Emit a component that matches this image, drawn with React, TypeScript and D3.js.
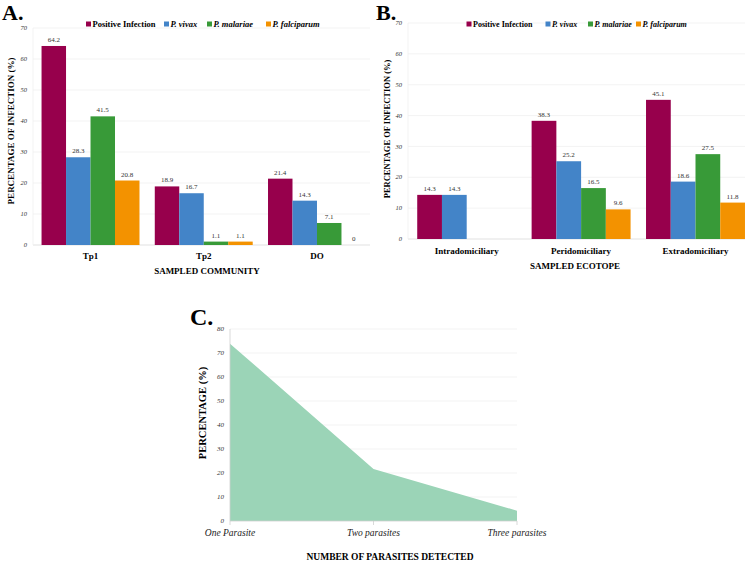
import React from "react";
import * as d3 from "d3";

const seriesNames = ["Positive Infection", "P. vivax", "P. malariae", "P. falciparum"];
const seriesColors = ["#97004C", "#4384C8", "#389A38", "#F39200"];

const communities = ["Tp1", "Tp2", "DO"];
const communityValues = [
  [64.2, 28.3, 41.5, 20.8],
  [18.9, 16.7, 1.1, 1.1],
  [21.4, 14.3, 7.1, 0],
];

const ecotopes = ["Intradomiciliary", "Peridomiciliary", "Extradomiciliary"];
const ecotopeValues: (number | null)[][] = [
  [14.3, 14.3, null, null],
  [38.3, 25.2, 16.5, 9.6],
  [45.1, 18.6, 27.5, 11.8],
];

const parasiteCats = ["One Parasite", "Two parasites", "Three parasites"];
const parasiteValues = [73.9, 21.7, 4.3];

const barTicks = [0, 10, 20, 30, 40, 50, 60, 70];
const areaTicks = [0, 10, 20, 30, 40, 50, 60, 70, 80];

const SERIF = "'Liberation Serif', 'Times New Roman', serif";

type BarProps = {
  cats: string[];
  values: (number | null)[][];
  x0: number;
  x1: number;
  gridX0: number;
  gridX1: number;
  y0: number;
  y70: number;
  legendX: number[];
  legendY: number;
  legendSize: number;
  catLabelY: number;
  xTitle: string;
  xTitleX: number;
  xTitleY: number;
  yTitleX: number;
  yTitleY: number;
  yTitleSize: number;
  panel: string;
  panelX: number;
};

function GroupedBars(p: BarProps) {
  const y = d3.scaleLinear().domain([0, 70]).range([p.y0, p.y70]);
  const gx = d3.scaleBand<string>().domain(p.cats).range([p.x0, p.x1]).paddingInner(0.135).paddingOuter(0.0675);
  const sx = d3.scaleBand<string>().domain(seriesNames).range([0, gx.bandwidth()]);
  return (
    <g>
      <text x={p.panelX} y={20} fontFamily={SERIF} fontWeight="bold" fontSize={22}>{p.panel}</text>
      {barTicks.map((t) => (
        <g key={t}>
          <line x1={p.gridX0} x2={p.gridX1} y1={y(t)} y2={y(t)} stroke={t === 0 ? "#d9d9d9" : "#f0f0f0"} strokeWidth={0.8} />
          <text x={p.gridX0 - 6} y={y(t)} dy="0.32em" textAnchor="end" fontFamily={SERIF} fontStyle="italic" fontSize={6.5} fill="#333">{t}</text>
        </g>
      ))}
      <line x1={p.gridX0} x2={p.gridX0} y1={p.y70} y2={p.y0} stroke="#f0f0f0" strokeWidth={0.8} />
      {p.cats.map((c, ci) => (
        <g key={c} transform={`translate(${gx(c)},0)`}>
          {seriesNames.map((s, si) => {
            const v = p.values[ci][si];
            if (v === null) return null;
            return (
              <g key={s}>
                <rect x={sx(s)} width={sx.bandwidth()} y={y(v)} height={p.y0 - y(v)} fill={seriesColors[si]} />
                <text x={(sx(s) as number) + sx.bandwidth() / 2} y={y(v) - 4} textAnchor="middle" fontFamily={SERIF} fontSize={7} fill="#333">{v}</text>
              </g>
            );
          })}
          <text x={gx.bandwidth() / 2} y={p.catLabelY} dy="0.32em" textAnchor="middle" fontFamily={SERIF} fontWeight="bold" fontSize={9}>{c}</text>
        </g>
      ))}
      {seriesNames.map((s, si) => (
        <g key={s} transform={`translate(${p.legendX[si]},${p.legendY})`}>
          <rect x={0} y={-2.5} width={5} height={5} fill={seriesColors[si]} />
          <text x={6.5} y={0} dy="0.35em" fontFamily={SERIF} fontWeight="bold" fontStyle={si === 0 ? "normal" : "italic"} fontSize={p.legendSize}>{s}</text>
        </g>
      ))}
      <text x={p.xTitleX} y={p.xTitleY} dy="0.32em" textAnchor="middle" fontFamily={SERIF} fontWeight="bold" fontSize={9}>{p.xTitle}</text>
      <text transform={`translate(${p.yTitleX},${p.yTitleY}) rotate(-90)`} dy="0.32em" textAnchor="middle" fontFamily={SERIF} fontWeight="bold" fontSize={p.yTitleSize}>PERCENTAGE OF INFECTION (%)</text>
    </g>
  );
}

function AreaPanel() {
  const x = d3.scalePoint<string>().domain(parasiteCats).range([230, 517]);
  const y = d3.scaleLinear().domain([0, 80]).range([521, 329]);
  const area = d3
    .area<number>()
    .x((_, i) => x(parasiteCats[i]) as number)
    .y0(y(0))
    .y1((d) => y(d));
  return (
    <g>
      <text x={190} y={325} fontFamily={SERIF} fontWeight="bold" fontSize={24}>C.</text>
      {areaTicks.map((t) => (
        <g key={t}>
          {t > 0 && <line x1={230} x2={517} y1={y(t)} y2={y(t)} stroke="#f0f0f0" strokeWidth={0.8} />}
          <text x={224} y={y(t)} dy="0.32em" textAnchor="end" fontFamily={SERIF} fontStyle="italic" fontSize={7} fill="#333">{t}</text>
        </g>
      ))}
      <path d={area(parasiteValues) as string} fill="#9BD4B7" />
      <line x1={230} x2={230} y1={329} y2={521} stroke="#cfcfcf" strokeWidth={0.8} />
      <line x1={230} x2={517} y1={521} y2={521} stroke="#cfcfcf" strokeWidth={0.8} />
      {parasiteCats.map((c) => (
        <g key={c}>
          <line x1={x(c)} x2={x(c)} y1={521} y2={525} stroke="#cfcfcf" strokeWidth={0.8} />
          <text x={x(c)} y={533} dy="0.32em" textAnchor="middle" fontFamily={SERIF} fontStyle="italic" fontSize={9.5} fill="#222">{c}</text>
        </g>
      ))}
      <text x={390} y={557} dy="0.32em" textAnchor="middle" fontFamily={SERIF} fontWeight="bold" fontSize={9.5}>NUMBER OF PARASITES DETECTED</text>
      <text transform={`translate(203,413) rotate(-90)`} dy="0.32em" textAnchor="middle" fontFamily={SERIF} fontWeight="bold" fontSize={10.5}>PERCENTAGE (%)</text>
    </g>
  );
}

export default function App() {
  return (
    <svg width={750} height={564} style={{ position: "absolute", left: 0, top: 0, background: "#fff" }}>
      <rect width={750} height={564} fill="#fff" />
      <GroupedBars
        cats={communities}
        values={communityValues}
        x0={33.9}
        x1={373.6}
        gridX0={33}
        gridX1={370}
        y0={245}
        y70={28}
        legendX={[86, 164, 207, 266]}
        legendY={24}
        legendSize={8.5}
        catLabelY={256}
        xTitle="SAMPLED COMMUNITY"
        xTitleX={207}
        xTitleY={271}
        yTitleX={11}
        yTitleY={131}
        yTitleSize={9}
        panel="A."
        panelX={2}
      />
      <GroupedBars
        cats={ecotopes}
        values={ecotopeValues}
        x0={409.5}
        x1={752.7}
        gridX0={408}
        gridX1={745}
        y0={239}
        y70={23}
        legendX={[466.5, 545.5, 588, 636]}
        legendY={24}
        legendSize={8}
        catLabelY={251}
        xTitle="SAMPLED ECOTOPE"
        xTitleX={575}
        xTitleY={266}
        yTitleX={387}
        yTitleY={129}
        yTitleSize={8.5}
        panel="B."
        panelX={376}
      />
      <AreaPanel />
    </svg>
  );
}
